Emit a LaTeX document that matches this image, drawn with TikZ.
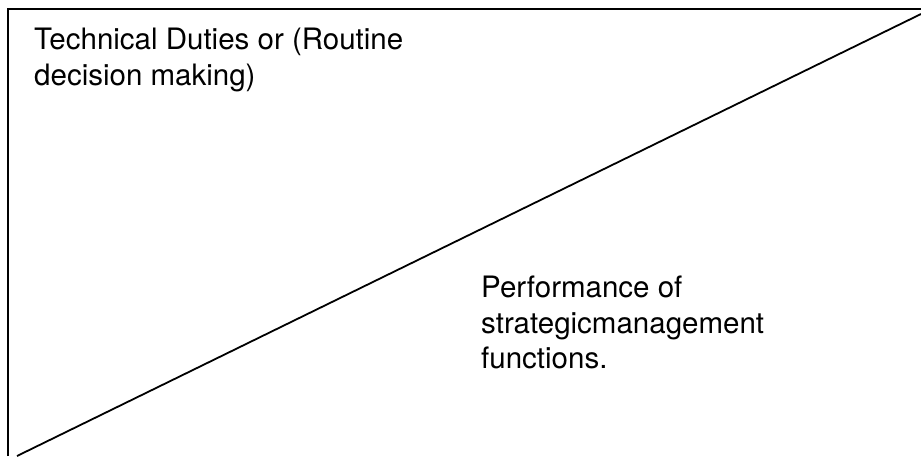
\documentclass[tikz,border=0pt]{standalone}
\usepackage{fontspec}
\setmainfont{TeX Gyre Heros}
\usetikzlibrary{positioning}
\tikzstyle{edge} = [line width=1.8pt, draw=black]
\tikzstyle{duty} = [font=\fontsize{29.5}{35.5}\selectfont, align=left, inner sep=0pt, anchor=north west]

\begin{document}
\begin{tikzpicture}[x=1pt, y=-1pt]
    \useasboundingbox (0,0) rectangle (921,456);

    \coordinate (TOPLEFT) at (8,9);
    \coordinate (TOPRIGHT) at (921,9);
    \coordinate (BOTLEFT) at (8,456);
    \coordinate (DIAGLOW) at (17,456);
    \coordinate (DIAGHIGH) at (921,14);

    \draw [edge] (BOTLEFT) -- (TOPLEFT) -- (TOPRIGHT);
    \draw [edge] (DIAGLOW) -- (DIAGHIGH);

    \node (ROUTINE) [duty] at (34,28) {Technical Duties or (Routine\\decision making)};
    \node (STRATEGIC) [duty] at (481,276) {Performance of\\strategicmanagement\\functions.};

\end{tikzpicture}
\end{document}
